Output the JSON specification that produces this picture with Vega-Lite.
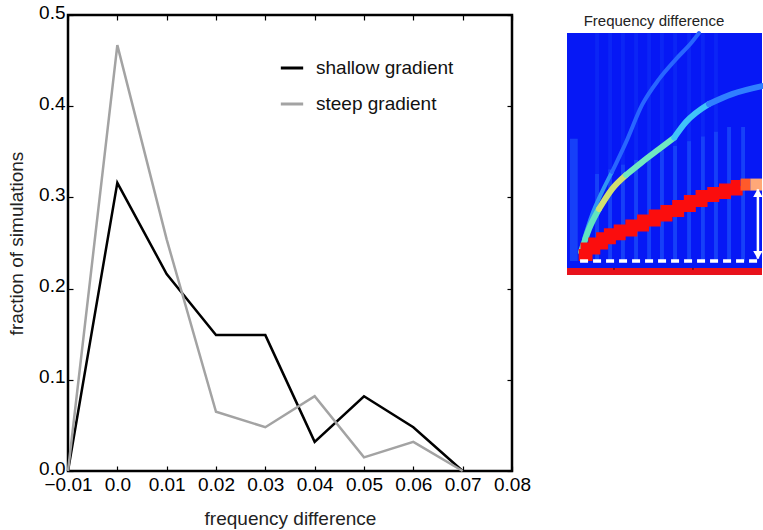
{
  "$schema": "https://vega.github.io/schema/vega-lite/v6.json",
  "background": "white",
  "padding": {"left": 6, "top": 1, "right": 0, "bottom": 0},
  "bounds": "flush",
  "spacing": 55,
  "config": {
    "font": "Liberation Sans",
    "view": {"stroke": "black", "strokeWidth": 2.5},
    "axis": {"grid": false, "domain": false, "labelFont": "Liberation Sans", "titleFont": "Liberation Sans", "labelFontSize": 19, "titleFontSize": 19, "titleFontWeight": "normal", "labelColor": "black", "titleColor": "#222", "tickColor": "black", "tickWidth": 1.2}
  },
  "resolve": {"scale": {"color": "independent", "x": "independent", "y": "independent"}, "legend": {"color": "independent"}},
  "datasets": {
    "main": [
      {"fd": -0.01, "frac": 0.0, "series": "shallow gradient"},
      {"fd": 0.0, "frac": 0.316, "series": "shallow gradient"},
      {"fd": 0.01, "frac": 0.216, "series": "shallow gradient"},
      {"fd": 0.02, "frac": 0.149, "series": "shallow gradient"},
      {"fd": 0.03, "frac": 0.149, "series": "shallow gradient"},
      {"fd": 0.04, "frac": 0.032, "series": "shallow gradient"},
      {"fd": 0.05, "frac": 0.082, "series": "shallow gradient"},
      {"fd": 0.06, "frac": 0.048, "series": "shallow gradient"},
      {"fd": 0.07, "frac": 0.0, "series": "shallow gradient"},
      {"fd": -0.01, "frac": 0.0, "series": "steep gradient"},
      {"fd": 0.0, "frac": 0.467, "series": "steep gradient"},
      {"fd": 0.01, "frac": 0.254, "series": "steep gradient"},
      {"fd": 0.02, "frac": 0.065, "series": "steep gradient"},
      {"fd": 0.03, "frac": 0.048, "series": "steep gradient"},
      {"fd": 0.04, "frac": 0.082, "series": "steep gradient"},
      {"fd": 0.05, "frac": 0.015, "series": "steep gradient"},
      {"fd": 0.06, "frac": 0.032, "series": "steep gradient"},
      {"fd": 0.07, "frac": 0.0, "series": "steep gradient"}
    ],
    "bg": [{"t0": 0, "t1": 100, "v0": 0, "v1": 100}],
    "bar": [{"t0": 0, "t1": 100, "v0": -3, "v1": 0}],
    "barticks": [{"t": 24.1, "v0": -0.8, "v1": 0}, {"t": 64.6, "v0": -0.8, "v1": 0}],
    "stripes": [
      {"t0": 1.5, "t1": 5.5, "v0": 3, "v1": 55, "k": "strong"},
      {"t0": 14.4, "t1": 16.4, "v0": 3, "v1": 40, "k": "strong"},
      {"t0": 21.1, "t1": 23.1, "v0": 3, "v1": 42, "k": "strong"},
      {"t0": 27.7, "t1": 29.7, "v0": 3, "v1": 44, "k": "strong"},
      {"t0": 34.4, "t1": 36.4, "v0": 3, "v1": 46, "k": "strong"},
      {"t0": 41.1, "t1": 43.1, "v0": 3, "v1": 48, "k": "strong"},
      {"t0": 47.7, "t1": 49.7, "v0": 3, "v1": 50, "k": "strong"},
      {"t0": 54.4, "t1": 56.4, "v0": 3, "v1": 52, "k": "strong"},
      {"t0": 61.6, "t1": 63.6, "v0": 3, "v1": 54, "k": "strong"},
      {"t0": 68.7, "t1": 70.7, "v0": 3, "v1": 56, "k": "strong"},
      {"t0": 75.4, "t1": 77.4, "v0": 3, "v1": 58, "k": "strong"},
      {"t0": 82.1, "t1": 84.1, "v0": 3, "v1": 60, "k": "strong"},
      {"t0": 89.3, "t1": 91.3, "v0": 3, "v1": 60, "k": "strong"},
      {"t0": 14.4, "t1": 16.4, "v0": 40, "v1": 100, "k": "faint"},
      {"t0": 21.1, "t1": 23.1, "v0": 42, "v1": 100, "k": "faint"},
      {"t0": 27.7, "t1": 29.7, "v0": 44, "v1": 100, "k": "faint"},
      {"t0": 34.4, "t1": 36.4, "v0": 46, "v1": 100, "k": "faint"},
      {"t0": 41.1, "t1": 43.1, "v0": 48, "v1": 100, "k": "faint"},
      {"t0": 47.7, "t1": 49.7, "v0": 50, "v1": 100, "k": "faint"},
      {"t0": 54.4, "t1": 56.4, "v0": 52, "v1": 100, "k": "faint"},
      {"t0": 61.6, "t1": 63.6, "v0": 54, "v1": 100, "k": "faint"},
      {"t0": 68.7, "t1": 70.7, "v0": 56, "v1": 100, "k": "faint"},
      {"t0": 75.4, "t1": 77.4, "v0": 58, "v1": 100, "k": "faint"}
    ],
    "curve3": [
      {"t": 8.7, "v": 12.3, "seg": "c3a"},
      {"t": 12.8, "v": 22.6, "seg": "c3a"},
      {"t": 17.9, "v": 32.3, "seg": "c3a"},
      {"t": 23.1, "v": 40.9, "seg": "c3a"},
      {"t": 23.1, "v": 40.9, "seg": "c3b"},
      {"t": 30.3, "v": 53.6, "seg": "c3b"},
      {"t": 38.5, "v": 69.4, "seg": "c3b"},
      {"t": 47.2, "v": 80.4, "seg": "c3b"},
      {"t": 55.9, "v": 88.9, "seg": "c3b"},
      {"t": 64.1, "v": 96.2, "seg": "c3b"},
      {"t": 67.7, "v": 100, "seg": "c3b"}
    ],
    "curve2": [
      {"t": 7.2, "v": 6.8, "seg": "c2a"},
      {"t": 11.3, "v": 16.6, "seg": "c2a"},
      {"t": 16.4, "v": 25.1, "seg": "c2a"},
      {"t": 16.4, "v": 25.1, "seg": "c2b"},
      {"t": 23.1, "v": 33.6, "seg": "c2b"},
      {"t": 30.3, "v": 39.6, "seg": "c2b"},
      {"t": 30.3, "v": 39.6, "seg": "c2c"},
      {"t": 38.5, "v": 45.1, "seg": "c2c"},
      {"t": 47.2, "v": 50.6, "seg": "c2c"},
      {"t": 55.0, "v": 55.5, "seg": "c2c"},
      {"t": 55.0, "v": 55.5, "seg": "c2d"},
      {"t": 61.0, "v": 62.1, "seg": "c2d"},
      {"t": 72.8, "v": 69.8, "seg": "c2d"},
      {"t": 72.8, "v": 69.8, "seg": "c2e"},
      {"t": 84.6, "v": 74.0, "seg": "c2e"},
      {"t": 100, "v": 77.4, "seg": "c2e"}
    ],
    "redband": [
      {"t": 6, "v": 5.5, "seg": "r1"},
      {"t": 10, "v": 8.3, "seg": "r1"},
      {"t": 14, "v": 10.4, "seg": "r1"},
      {"t": 18, "v": 12.6, "seg": "r1"},
      {"t": 22, "v": 14.3, "seg": "r1"},
      {"t": 27, "v": 16.0, "seg": "r1"},
      {"t": 33, "v": 18.1, "seg": "r1"},
      {"t": 39, "v": 20.2, "seg": "r1"},
      {"t": 45, "v": 22.3, "seg": "r1"},
      {"t": 51, "v": 24.3, "seg": "r1"},
      {"t": 57, "v": 26.4, "seg": "r1"},
      {"t": 63, "v": 28.5, "seg": "r1"},
      {"t": 69, "v": 30.6, "seg": "r1"},
      {"t": 75, "v": 31.9, "seg": "r1"},
      {"t": 81, "v": 33.4, "seg": "r1"},
      {"t": 87, "v": 34.9, "seg": "r1"},
      {"t": 89, "v": 34.9, "seg": "r1"},
      {"t": 89, "v": 35.5, "seg": "r2"},
      {"t": 94, "v": 35.5, "seg": "r2"},
      {"t": 94, "v": 35.5, "seg": "r3"},
      {"t": 100, "v": 35.5, "seg": "r3"}
    ],
    "dash": [{"t": 6.7, "v": 3.0}, {"t": 98.5, "v": 3.0}],
    "arrow": [{"t": 97.9, "v0": 4.0, "v1": 33.5}],
    "heads": [{"t": 97.9, "v": 32.0, "dir": "up"}, {"t": 97.9, "v": 5.5, "dir": "down"}],
    "title": [{"t": 44.6, "v": 105.0, "label": "Frequency difference"}]
  },
  "hconcat": [
    {
      "width": 444,
      "height": 456,
      "data": {"name": "main"},
      "resolve": {"axis": {"x": "independent", "y": "independent"}},
      "layer": [
        {
          "mark": {"type": "line", "strokeWidth": 2.5},
          "encoding": {
            "x": {"field": "fd", "type": "quantitative", "scale": {"domain": [-0.01, 0.08], "nice": false, "zero": false},
                  "axis": {"orient": "bottom", "title": "frequency difference", "values": [-0.01, 0, 0.01, 0.02, 0.03, 0.04, 0.05, 0.06, 0.07, 0.08], "labelExpr": "abs(datum.value) < 1e-9 ? '0.0' : format(datum.value, '.2f')", "tickSize": -5, "labelPadding": 9, "titlePadding": 15, "labelFlush": false, "labelOverlap": false}},
            "y": {"field": "frac", "type": "quantitative", "scale": {"domain": [0, 0.5], "nice": false},
                  "axis": {"orient": "left", "title": "fraction of simulations", "values": [0, 0.1, 0.2, 0.3, 0.4, 0.5], "format": ".1f", "tickSize": -5, "labelPadding": 8, "titlePadding": 12, "labelFlush": false, "labelOffset": -3}},
            "color": {"field": "series", "type": "nominal", "scale": {"domain": ["shallow gradient", "steep gradient"], "range": ["#000000", "#a3a3a3"]},
                      "legend": {"title": null, "orient": "none", "legendX": 211, "legendY": 40, "symbolType": "stroke", "symbolStrokeWidth": 3, "symbolSize": 500, "labelFontSize": 19, "labelFont": "Liberation Sans", "labelColor": "#111", "labelOffset": 11, "rowPadding": 13,
                                 "labelExpr": "datum.label == 'steep gradient' ? '\u00a0steep gradient' : datum.label"}}
          }
        },
        {
          "mark": {"type": "line", "opacity": 0},
          "encoding": {
            "x": {"field": "fd", "type": "quantitative", "axis": {"orient": "top", "title": null, "labels": false, "values": [-0.01, 0, 0.01, 0.02, 0.03, 0.04, 0.05, 0.06, 0.07, 0.08], "tickSize": -5}},
            "y": {"field": "frac", "type": "quantitative", "axis": {"orient": "right", "title": null, "labels": false, "values": [0, 0.1, 0.2, 0.3, 0.4, 0.5], "tickSize": -5}}
          }
        }
      ]
    },
    {
      "width": 195,
      "height": 260,
      "view": {"stroke": null},
      "resolve": {"scale": {"color": "independent", "opacity": "independent", "shape": "independent"}},
      "layer": [
        {
          "data": {"name": "bg"},
          "mark": {"type": "rect", "color": "#0618f5"},
          "encoding": {
            "x": {"field": "t0", "type": "quantitative", "scale": {"domain": [0, 100], "nice": false, "zero": false}, "axis": null},
            "x2": {"field": "t1"},
            "y": {"field": "v0", "type": "quantitative", "scale": {"domain": [-3, 107.7], "nice": false, "zero": false}, "axis": null},
            "y2": {"field": "v1"}
          }
        },
        {
          "data": {"name": "stripes"},
          "mark": {"type": "rect", "color": "#3aa0ff"},
          "encoding": {
            "x": {"field": "t0", "type": "quantitative"},
            "x2": {"field": "t1"},
            "y": {"field": "v0", "type": "quantitative"},
            "y2": {"field": "v1"},
            "opacity": {"field": "k", "type": "nominal", "scale": {"domain": ["strong", "faint"], "range": [0.3, 0.1]}, "legend": null}
          }
        },
        {
          "data": {"name": "curve3"},
          "mark": {"type": "line", "strokeWidth": 4, "interpolate": "monotone", "strokeCap": "round"},
          "encoding": {
            "x": {"field": "t", "type": "quantitative"},
            "y": {"field": "v", "type": "quantitative"},
            "color": {"field": "seg", "type": "nominal", "scale": {"domain": ["c3a", "c3b"], "range": ["#3096f4", "#2866ff"]}, "legend": null}
          }
        },
        {
          "data": {"name": "curve2"},
          "mark": {"type": "line", "strokeWidth": 6, "interpolate": "monotone", "strokeCap": "round"},
          "encoding": {
            "x": {"field": "t", "type": "quantitative"},
            "y": {"field": "v", "type": "quantitative"},
            "color": {"field": "seg", "type": "nominal", "scale": {"domain": ["c2a", "c2b", "c2c", "c2d", "c2e"], "range": ["#60e4c0", "#d0e070", "#70e8c0", "#40c4f8", "#3080ff"]}, "legend": null}
          }
        },
        {
          "data": {"name": "redband"},
          "mark": {"type": "line", "strokeWidth": 12, "interpolate": "step-after"},
          "encoding": {
            "x": {"field": "t", "type": "quantitative"},
            "y": {"field": "v", "type": "quantitative"},
            "color": {"field": "seg", "type": "nominal", "scale": {"domain": ["r1", "r2", "r3"], "range": ["#fb0d0d", "#ff5a2a", "#ffa878"]}, "legend": null}
          }
        },
        {
          "data": {"name": "dash"},
          "mark": {"type": "line", "color": "white", "strokeWidth": 3.5, "strokeDash": [8, 5]},
          "encoding": {
            "x": {"field": "t", "type": "quantitative"},
            "y": {"field": "v", "type": "quantitative"}
          }
        },
        {
          "data": {"name": "arrow"},
          "mark": {"type": "rule", "color": "white", "strokeWidth": 2.5},
          "encoding": {
            "x": {"field": "t", "type": "quantitative"},
            "y": {"field": "v0", "type": "quantitative"},
            "y2": {"field": "v1"}
          }
        },
        {
          "data": {"name": "heads"},
          "mark": {"type": "point", "filled": true, "color": "white", "opacity": 1, "size": 90},
          "encoding": {
            "x": {"field": "t", "type": "quantitative"},
            "y": {"field": "v", "type": "quantitative"},
            "shape": {"field": "dir", "type": "nominal", "scale": {"domain": ["up", "down"], "range": ["triangle-up", "triangle-down"]}, "legend": null}
          }
        },
        {
          "data": {"name": "bar"},
          "mark": {"type": "rect", "color": "#e8121c"},
          "encoding": {
            "x": {"field": "t0", "type": "quantitative"},
            "x2": {"field": "t1"},
            "y": {"field": "v0", "type": "quantitative"},
            "y2": {"field": "v1"}
          }
        },
        {
          "data": {"name": "barticks"},
          "mark": {"type": "rule", "color": "#400000", "strokeWidth": 1},
          "encoding": {
            "x": {"field": "t", "type": "quantitative"},
            "y": {"field": "v0", "type": "quantitative"},
            "y2": {"field": "v1"}
          }
        },
        {
          "data": {"name": "title"},
          "mark": {"type": "text", "font": "Liberation Sans", "fontSize": 15, "color": "#222", "align": "center", "baseline": "middle"},
          "encoding": {
            "x": {"field": "t", "type": "quantitative"},
            "y": {"field": "v", "type": "quantitative"},
            "text": {"field": "label"}
          }
        }
      ]
    }
  ]
}
